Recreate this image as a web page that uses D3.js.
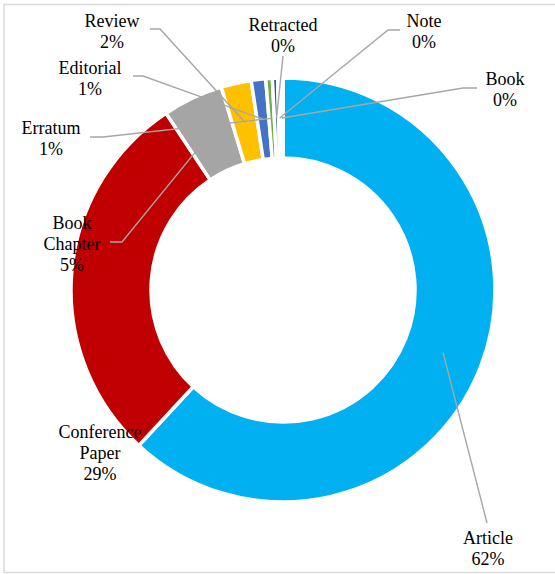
<!DOCTYPE html>
<html>
<head>
<meta charset="utf-8">
<script src="https://cdn.jsdelivr.net/npm/d3@7"></script>
<style>
  html, body { margin: 0; padding: 0; background: #fff; }
  svg { display: block; }
</style>
</head>
<body>
<svg id="chart" width="555" height="574" font-family="Liberation Serif"></svg>
<script>
// Document types, share of publications (%)
const categories = ["Article", "Conference Paper", "Book Chapter", "Review", "Editorial", "Erratum", "Retracted", "Note", "Book"];
const shares     = [61.9, 28.8, 4.6, 2.3, 1.1, 0.5, 0.4, 0.2, 0.2];
const colors     = ["#00B0F0", "#C00000", "#A5A5A5", "#FFC000", "#4472C4", "#70AD47", "#255E91", "#9E480E", "#636363"];

// Label placement: text anchor point, first baseline and leader elbow
const labelLayout = {
  "Article":          { x: 488, y: 544, leader: [[487, 523]] },
  "Conference Paper": { x: 100, y: 438, leader: null, lines: ["Conference", "Paper"] },
  "Book Chapter":     { x: 72,  y: 229, leader: [[110, 242], [122, 242]], lines: ["Book", "Chapter"] },
  "Erratum":          { x: 51,  y: 134, leader: [[90, 137], [103, 137]] },
  "Editorial":        { x: 90,  y: 74,  leader: [[133, 76], [143, 76]] },
  "Review":           { x: 112, y: 27,  leader: [[150, 29], [160, 29]] },
  "Retracted":        { x: 283, y: 31,  leader: [[283, 56]] },
  "Note":             { x: 424, y: 27,  leader: [[400, 30], [388, 30]] },
  "Book":             { x: 505, y: 85,  leader: [[477, 88], [463, 88]] }
};

const svg = d3.select("#chart");
const cx = 283, cy = 290;
const outerR = 212, innerR = 132;
const lineH = 21;

// chart area frame
svg.append("rect")
  .attr("x", 4).attr("y", 4.5)
  .attr("width", 560).attr("height", 568)
  .attr("fill", "none")
  .attr("stroke", "#D9D9D9")
  .attr("stroke-width", 1.5);

const data = categories.map((c, i) => ({ name: c, value: shares[i], color: colors[i] }));

const pie = d3.pie().value(d => d.value).sort(null);
const arcs = pie(data);

const arc = d3.arc().innerRadius(innerR).outerRadius(outerR);
const midArc = d3.arc().innerRadius((innerR + outerR) / 2).outerRadius((innerR + outerR) / 2);

const g = svg.append("g").attr("transform", `translate(${cx},${cy})`);

g.selectAll("path.slice")
  .data(arcs)
  .join("path")
  .attr("class", "slice")
  .attr("d", arc)
  .attr("fill", d => d.data.color)
  .attr("stroke", "#fff")
  .attr("stroke-width", 3.5)
  .attr("stroke-linejoin", "miter");

// leader lines from each label to the middle of its ring segment
const line = d3.line();
arcs.forEach(a => {
  const lay = labelLayout[a.data.name];
  if (!lay.leader) return;
  const [mx, my] = midArc.centroid(a);
  const pts = lay.leader.concat([[cx + mx, cy + my]]);
  svg.append("path")
    .attr("d", line(pts))
    .attr("fill", "none")
    .attr("stroke", "#A6A6A6")
    .attr("stroke-width", 1.4);
});

// category labels with rounded percentage, one text element per row
arcs.forEach(a => {
  const lay = labelLayout[a.data.name];
  const rows = (lay.lines || [a.data.name]).concat([Math.round(a.data.value) + "%"]);
  rows.forEach((r, i) => {
    svg.append("text")
      .attr("text-anchor", "middle")
      .attr("font-family", "'Liberation Serif'")
      .attr("font-size", 18)
      .attr("fill", "#000")
      .attr("x", lay.x)
      .attr("y", lay.y + i * lineH)
      .text(r);
  });
});
</script>
</body>
</html>
